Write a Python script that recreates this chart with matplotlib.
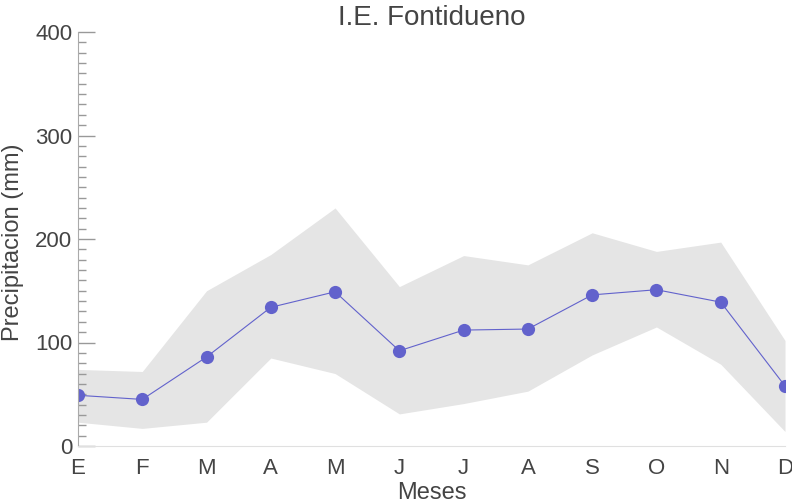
import matplotlib.pyplot as plt
import numpy as np

plt.rcParams['font.family'] = ['Liberation Sans', 'DejaVu Sans']

months = ['E', 'F', 'M', 'A', 'M', 'J', 'J', 'A', 'S', 'O', 'N', 'D']
mean_precip = [49, 45, 86, 134, 149, 92, 112, 113, 146, 151, 139, 58]
upper_precip = [74, 72, 150, 185, 230, 154, 184, 175, 206, 188, 197, 102]
lower_precip = [23, 17, 23, 85, 70, 31, 41, 53, 88, 115, 79, 14]

text_color = '#444444'

fig = plt.figure(figsize=(7.92, 5.03), dpi=100)
ax = fig.add_axes([78 / 792, 57 / 503, 707 / 792, 414 / 503])

x = np.arange(len(months))
ax.fill_between(x, lower_precip, upper_precip, color='#e5e5e5', linewidth=0)
ax.plot(x, mean_precip, color='#6262cc', linewidth=0.8, marker='o',
        markersize=9.5, markeredgewidth=0)

ax.set_xlim(0, len(months) - 1)
ax.set_ylim(0, 400)
ax.set_xticks(x)
ax.set_xticklabels(months)
ax.set_yticks([0, 100, 200, 300, 400])
ax.set_yticks(np.arange(0, 401, 10), minor=True)

ax.tick_params(axis='x', length=0, pad=9, labelsize=16, colors=text_color)
ax.tick_params(axis='y', which='major', direction='in', length=12, width=1,
               color='#999999', labelsize=16, labelcolor=text_color, pad=4)
ax.tick_params(axis='y', which='minor', direction='in', length=6, width=1,
               color='#999999')

for side in ['top', 'right']:
    ax.spines[side].set_visible(False)
ax.spines['left'].set_color('#aaaaaa')
ax.spines['bottom'].set_color('#e0e0e0')

ax.set_title('I.E. Fontidueno', fontsize=20, color=text_color, pad=5)
ax.set_xlabel('Meses', fontsize=17, color=text_color, labelpad=2)
ax.set_ylabel('Precipitacion (mm)', fontsize=17, color=text_color)
ax.yaxis.set_label_coords(-54 / 707, 0.493)

plt.savefig('out.png', dpi=100, facecolor='white')
